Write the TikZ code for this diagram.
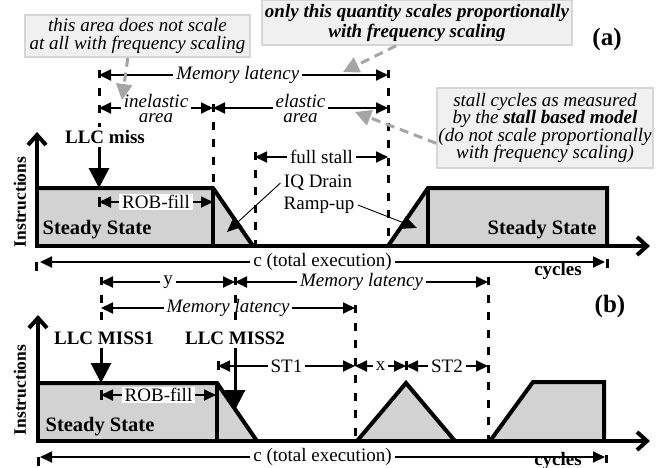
\documentclass[tikz,border=0pt]{standalone}
\usepackage{fontspec}
\setmainfont{Liberation Serif}
\usetikzlibrary{arrows.meta}

\definecolor{areagray}{RGB}{210,210,210}
\definecolor{notegray}{RGB}{240,240,240}
\definecolor{noteedge}{RGB}{214,214,214}
\definecolor{pointgray}{RGB}{165,165,165}

\newcommand{\labelsize}{\fontsize{19}{20}\selectfont}

\tikzset{
  axisline/.style={line width=4pt,line join=miter,
    {Straight Barb[length=10pt,width=18pt]}-{Straight Barb[length=10pt,width=18pt]}},
  outline/.style={line width=4pt,line join=miter},
  guide/.style={line width=3pt,dash pattern=on 8pt off 9.5pt},
  dimline/.style={line width=1.8pt,
    {Triangle[length=12pt,width=11pt]}-{Triangle[length=12pt,width=11pt]}},
  dimlabel/.style={fill=white,inner xsep=3pt,inner ysep=1pt},
  tickmark/.style={line width=3pt},
  missarrow/.style={line width=3pt,-{Triangle[length=20pt,width=20pt]}},
  pointer/.style={line width=0.9pt,-{Triangle[length=15pt,width=13pt]}},
  notebox/.style={fill=notegray,draw=noteedge,line width=1.5pt,align=center,inner sep=0pt},
  notearrow/.style={pointgray,line width=3pt,dash pattern=on 9pt off 6pt,
    -{Triangle[length=16pt,width=16pt]}},
  heavy/.style={font=\labelsize\bfseries},
  slanted/.style={font=\labelsize\itshape},
  twoline/.style={font=\fontsize{19}{15}\selectfont\itshape,align=center},
  axislabel/.style={font=\fontsize{17.5}{18}\selectfont\bfseries,rotate=90},
  statelabel/.style={font=\fontsize{20.5}{21}\selectfont\bfseries},
  panel/.style={font=\fontsize{25}{26}\selectfont\bfseries},
}

\begin{document}
\begin{tikzpicture}[x=1pt,y=-1pt,font=\labelsize]
  \useasboundingbox (0,0) rectangle (672,467);

  % (a) single miss
  \fill[areagray] (37,188) -- (213,188) -- (253,246) -- (37,246) -- cycle;
  \fill[areagray] (388,246) -- (428,188) -- (607,188) -- (607,246) -- cycle;
  \draw[axisline] (37,132) -- (37,246) -- (650,246);
  \draw[outline] (37,188) -- (213,188) -- (253,246);
  \draw[outline] (213,188) -- (213,246);
  \draw[outline] (388,246) -- (428,188) -- (607,188) -- (607,246);
  \draw[outline] (428,188) -- (428,246);

  \coordinate (amiss) at (99,75);
  \coordinate (arob) at (213,108);
  \coordinate (astall) at (255,157);
  \coordinate (aback) at (388,75);
  \coordinate (atop) at (99,188);

  \node[axislabel] (ainstr) at (20,202) {Instructions};
  \node[statelabel] (asteady) at (97,230) {Steady State};
  \node[statelabel] (asteady2) at (542,230) {Steady State};
  \node[heavy] (llcmiss) at (105,137) {LLC miss};
  \node[heavy] (acycles) at (558,271) {cycles};
  \node[panel] (apanel) at (607,39) {(a)};

  \draw[dimline] (amiss) -- node[dimlabel,slanted,pos=0.48] (alat) {Memory latency} (aback);
  \draw[dimline] (amiss |- arob) -- node[dimlabel,twoline] (ainel) {inelastic\\area} (arob);
  \draw[dimline] (arob) -- node[dimlabel,twoline] (aelas) {elastic\\area} (aback |- arob);
  \draw[dimline] (astall) -- node[dimlabel] (afull) {full stall} (aback |- astall);
  \draw[dimline] (99,202) -- node[dimlabel] (arobfill) {ROB-fill} (213,202);
  \draw[dimline] (40,262) -- node[dimlabel] (atotal) {c (total execution)} (605,262);

  \draw[guide] ([yshift=5pt]amiss) -- (amiss |- llcmiss.north);
  \draw[missarrow] (amiss |- llcmiss.south) -- (atop);
  \draw[guide] ([yshift=4pt]arob) -- (arob |- atop);
  \draw[guide] ([yshift=5pt]aback) -- (aback |- 0,246);
  \draw[guide] ([yshift=5pt]astall) -- (astall |- 0,246);
  \draw[tickmark] (99,197) -- (99,207);
  \draw[tickmark] (36,262) -- (36,271);
  \draw[tickmark] (607,259) -- (607,268);

  \node (iqdrain) at (318,183) {IQ Drain};
  \node (rampup) at (319,205) {Ramp-up};
  \coordinate (draintip) at (227,232);
  \coordinate (ramptip) at (417,228);
  \draw[pointer] (iqdrain.west) -- (draintip);
  \draw[pointer] (rampup.east) -- (ramptip);

  % notes
  \node[notebox,minimum width=225pt,minimum height=42pt,
    font=\fontsize{19}{18}\selectfont\itshape] (notearea) at (137.5,36)
    {this area does not scale\\at all with frequency scaling};
  \node[notebox,minimum width=310pt,minimum height=45pt,
    font=\labelsize\bfseries\itshape] (notescale) at (417,22.5)
    {only this quantity scales proportionally\\with frequency scaling};
  \node[notebox,minimum width=216pt,minimum height=80pt,
    font=\fontsize{19}{17.6}\selectfont\itshape] (notestall) at (545,128)
    {stall cycles as measured\\by the \textbf{stall based model}\\(do not scale proportionally\\with frequency scaling)};
  \coordinate (pinel) at (122,100);
  \coordinate (plat) at (343,72);
  \coordinate (pelas) at (355,112);
  \draw[notearrow] (notearea.246) -- (pinel);
  \draw[notearrow] (notescale.228) -- (plat);
  \draw[notearrow] (notestall.188) -- (pelas);

  % (b) two misses
  \fill[areagray] (38,383) -- (217,383) -- (257,441) -- (38,441) -- cycle;
  \fill[areagray] (357,441) -- (406,383) -- (455,441) -- cycle;
  \fill[areagray] (490,441) -- (533,382) -- (604,382) -- (604,441) -- cycle;
  \draw[axisline] (38,315) -- (38,441) -- (650,441);
  \draw[outline] (38,383) -- (217,383) -- (257,441);
  \draw[outline] (217,383) -- (217,441);
  \draw[outline] (357,441) -- (406,383) -- (455,441);
  \draw[outline] (490,441) -- (533,382) -- (604,382) -- (604,441);

  \coordinate (bmiss1) at (101,282);
  \coordinate (bmiss2) at (235,282);
  \coordinate (bback1) at (355,308);
  \coordinate (bback2) at (488,282);
  \coordinate (bpeak) at (406,366);

  \node[axislabel] (binstr) at (20,390) {Instructions};
  \node[statelabel] (bsteady) at (100,427) {Steady State};
  \node[heavy] (llcmiss1) at (104,338) {LLC MISS1};
  \node[heavy] (llcmiss2) at (235,338) {LLC MISS2};
  \node[heavy] (bcycles) at (558,461) {cycles};
  \node[panel] (bpanel) at (610,306) {(b)};

  \draw[dimline] (bmiss1) -- node[dimlabel] (by) {y} (bmiss2);
  \draw[dimline] (bmiss2) -- node[dimlabel,slanted] (blat2) {Memory latency} (bback2);
  \draw[dimline] (bmiss1 |- bback1) -- node[dimlabel,slanted] (blat1) {Memory latency} (bback1);
  \draw[dimline] (218,366) -- node[dimlabel] (bst1) {ST1} (bback1 |- bpeak);
  \draw[dimline] (bback1 |- bpeak) -- node[dimlabel] (bx) {x} (bpeak);
  \draw[dimline] (bpeak) -- node[dimlabel] (bst2) {ST2} (bback2 |- bpeak);
  \draw[dimline] (101,395) -- node[dimlabel] (brobfill) {ROB-fill} (216,395);
  \draw[dimline] (40,457) -- node[dimlabel] (btotal) {c (total execution)} (605,457);

  \draw[guide] ([yshift=5pt]bmiss1) -- (bmiss1 |- llcmiss1.north);
  \draw[missarrow] (bmiss1 |- llcmiss1.south) -- (101,383);
  \draw[guide] ([yshift=5pt]bmiss2) -- (bmiss2 |- llcmiss2.north);
  \draw[missarrow] (bmiss2 |- llcmiss2.south) -- (235,410);
  \draw[guide] ([yshift=3pt]bback1) -- (bback1 |- 0,441);
  \draw[guide] ([yshift=5pt]bback2) -- (bback2 |- 0,441);
  \draw[tickmark] (218,361) -- (218,370);
  \draw[tickmark] (406,361) -- (406,370);
  \draw[tickmark] (101,390) -- (101,400);
  \draw[tickmark] (38,457) -- (38,466);
  \draw[tickmark] (606,455) -- (606,463);
\end{tikzpicture}
\end{document}
